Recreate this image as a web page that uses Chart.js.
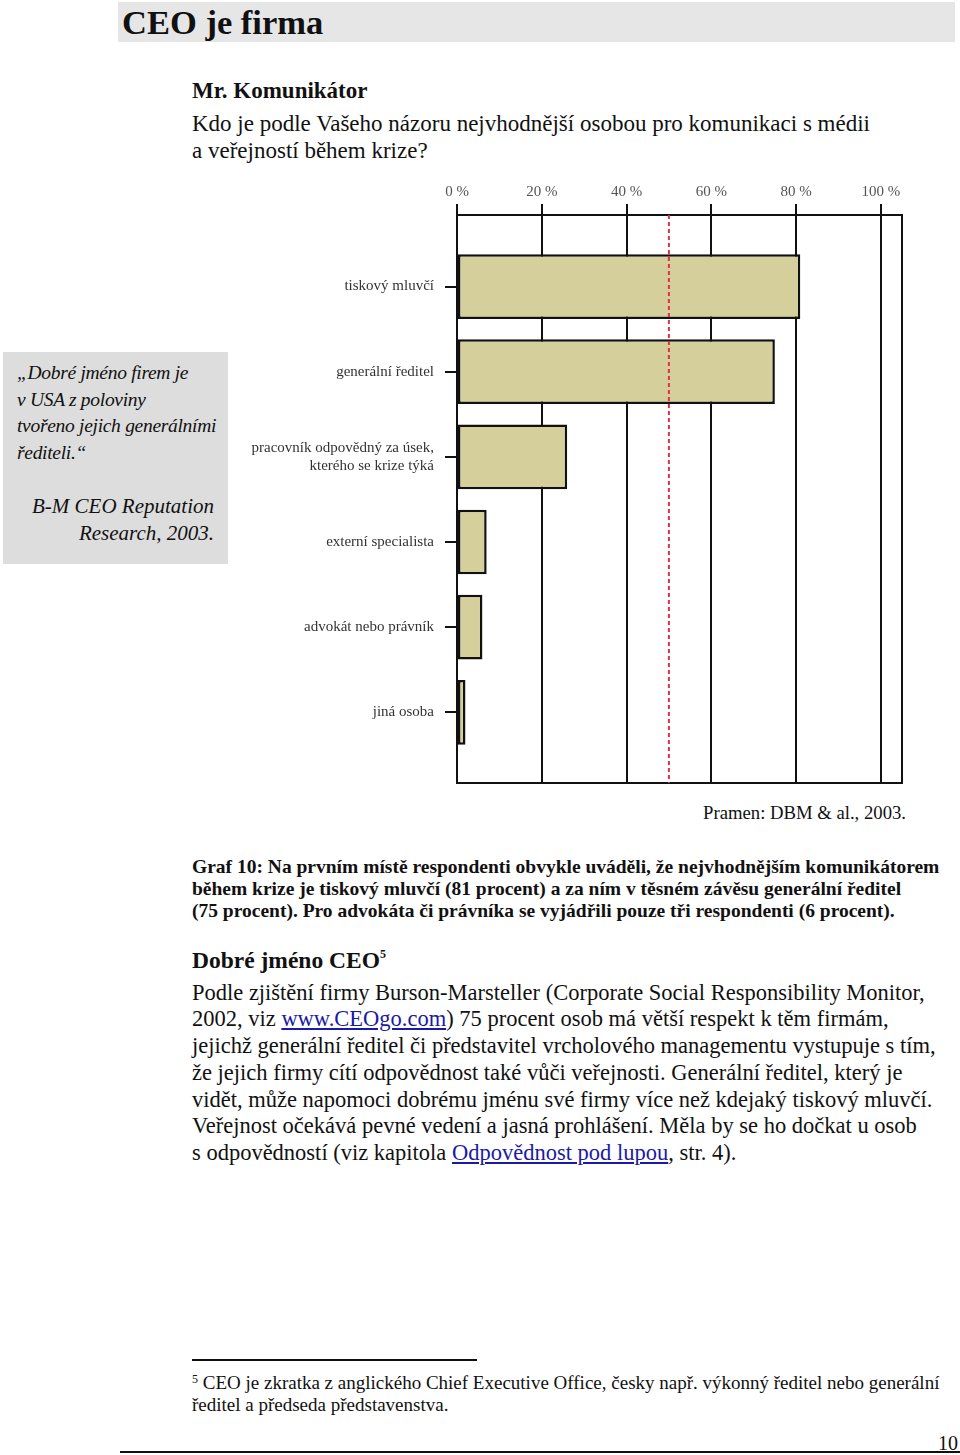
<!DOCTYPE html>
<html lang="cs">
<head>
<meta charset="utf-8">
<title>CEO je firma</title>
<script src="https://cdn.jsdelivr.net/npm/chart.js@4.4.1/dist/chart.umd.min.js"></script>
<style>
  html, body { margin: 0; padding: 0; background: #fff; }
  body {
    position: relative; width: 960px; height: 1455px; overflow: hidden;
    font-family: "Liberation Serif", "DejaVu Serif", serif; color: #111;
  }
  .abs { position: absolute; white-space: nowrap; }
  .band { left: 118px; top: 2px; width: 837px; height: 40px; background: #e6e6e6; }
  .band span { position: absolute; left: 4px; top: 0; font-weight: bold; font-size: 34.5px; line-height: 40px; }
  .sub { left: 192px; top: 77px; font-weight: bold; font-size: 23px; line-height: 28px; }
  .question { left: 192px; top: 110px; font-size: 23px; line-height: 27px; }
  .aside { left: 3px; top: 352px; width: 225px; height: 212px; background: #dddddd; }
  .aside .quote { position: absolute; left: 14px; top: 8px; font-style: italic; font-size: 19.5px; letter-spacing: -0.3px; line-height: 26.7px; white-space: nowrap; }
  .aside .src { position: absolute; right: 14px; top: 141px; font-style: italic; font-size: 21px; line-height: 27px; text-align: right; white-space: nowrap; }
  #chartBox { position: absolute; left: 200px; top: 170px; width: 715px; height: 620px; }
  .source { right: 54px; top: 801px; font-size: 18.7px; line-height: 24px; }
  .caption { left: 192px; top: 856px; font-weight: bold; font-size: 19.5px; line-height: 22px; }
  .h2 { left: 192px; top: 945px; font-weight: bold; font-size: 23.5px; line-height: 30px; }
  .h2 sup { font-size: 12px; vertical-align: 10px; line-height: 0; }
  .body { left: 192px; top: 979.5px; font-size: 22.5px; line-height: 26.8px; }
  a { color: #1a1aa6; text-decoration: underline; }
  .rule { left: 192px; top: 1359px; width: 285px; height: 2px; background: #111; }
  .note { left: 192px; top: 1372px; font-size: 19px; line-height: 22px; }
  .note sup { font-size: 12px; vertical-align: 6px; line-height: 0; }
  .pageno { right: 2px; top: 1431px; font-size: 20px; line-height: 24px; }
  .bottom { left: 120px; top: 1451px; width: 840px; height: 2px; background: #111; }
</style>
</head>
<body>
<div class="abs band"><span>CEO je firma</span></div>
<div class="abs sub">Mr. Komunikátor</div>
<div class="abs question">Kdo je podle Vašeho názoru nejvhodnější osobou pro komunikaci s médii<br>a veřejností během krize?</div>

<div class="abs aside">
  <div class="quote">„Dobré jméno firem je<br>v USA z poloviny<br>tvořeno jejich generálními<br>řediteli.“</div>
  <div class="src">B-M CEO Reputation<br>Research, 2003.</div>
</div>

<div id="chartBox"><canvas id="chart" width="715" height="620"></canvas></div>

<div class="abs source">Pramen: DBM &amp; al., 2003.</div>
<div class="abs caption">Graf 10: Na prvním místě respondenti obvykle uváděli, že nejvhodnějším komunikátorem<br>během krize je tiskový mluvčí (81 procent) a za ním v těsném závěsu generální ředitel<br>(75 procent). Pro advokáta či právníka se vyjádřili pouze tři respondenti (6 procent).</div>

<div class="abs h2">Dobré jméno CEO<sup>5</sup></div>
<div class="abs body">Podle zjištění firmy Burson-Marsteller (Corporate Social Responsibility Monitor,<br>2002, viz <a>www.CEOgo.com</a>) 75 procent osob má větší respekt k těm firmám,<br>jejichž generální ředitel či představitel vrcholového managementu vystupuje s tím,<br>že jejich firmy cítí odpovědnost také vůči veřejnosti. Generální ředitel, který je<br>vidět, může napomoci dobrému jménu své firmy více než kdejaký tiskový mluvčí.<br>Veřejnost očekává pevné vedení a jasná prohlášení. Měla by se ho dočkat u osob<br>s odpovědností (viz kapitola <a>Odpovědnost pod lupou</a>, str. 4).</div>

<div class="abs rule"></div>
<div class="abs note"><sup>5</sup> CEO je zkratka z anglického Chief Executive Office, česky např. výkonný ředitel nebo generální<br>ředitel a předseda představenstva.</div>
<div class="abs pageno">10</div>
<div class="abs bottom"></div>

<script>
// Answers, top to bottom, as the survey listed them.
const categories = [
    "tiskový mluvčí",
    "generální ředitel",
    ["pracovník odpovědný za úsek,", "kterého se krize týká"],
    "externí specialista",
    "advokát nebo právník",
    "jiná osoba",
];
// Share of respondents for each answer, in percent.
const shares = [81, 75, 26, 7, 6, 2];
// Percent ticks along the top axis and their texts.
const percentTicks = [0, 20, 40, 60, 80, 100];
const tickLabels = ["0 %", "20 %", "40 %", "60 %", "80 %", "100 %"];
// The dashed 50 % mark, from the top of the plot to the bottom.
const halfMark = [50, 50];

// Scale ranges: the frame runs a little past 100 % and past the first and last row.
const percentMax = 105;
const rowMin = -0.84;
const rowMax = 5.83;

const ink = "#111";

/**
 * Draws the right and bottom sides of the plot frame.
 */
const framePlugin = {
    id: "frame",
    beforeDatasetsDraw(chart) {
        const { ctx, chartArea } = chart;
        ctx.save();
        ctx.strokeStyle = ink;
        ctx.lineWidth = 2;
        ctx.beginPath();
        ctx.moveTo(chartArea.left, chartArea.bottom);
        ctx.lineTo(chartArea.right, chartArea.bottom);
        ctx.lineTo(chartArea.right, chartArea.top);
        ctx.stroke();
        ctx.restore();
    },
};

const chart = new Chart(document.getElementById("chart"), {
    data: {
        datasets: [
            {
                type: "bar",
                data: shares.map((value, index) => ({ x: value, y: index })),
                backgroundColor: "#d4cf9b",
                borderColor: ink,
                borderWidth: 2.5,
                borderSkipped: false,
                categoryPercentage: 1,
                barPercentage: 0.76,
                order: 1,
            },
            {
                type: "line",
                data: halfMark.map((value, index) => ({ x: value, y: index === 0 ? rowMin : rowMax })),
                borderColor: "#dc3246",
                borderWidth: 2,
                borderDash: [4, 3],
                pointRadius: 0,
                order: 0,
            },
        ],
    },
    options: {
        indexAxis: "y",
        responsive: false,
        animation: false,
        layout: { padding: { top: 0, left: 0, right: 13, bottom: 7 } },
        plugins: {
            legend: { display: false },
            tooltip: { enabled: false },
        },
        scales: {
            x: {
                type: "linear",
                position: "top",
                min: 0,
                max: percentMax,
                afterBuildTicks: (scale) => {
                    scale.ticks = percentTicks.map((value) => ({ value }));
                },
                afterFit: (scale) => {
                    scale.height = 45;
                },
                ticks: {
                    padding: 3,
                    color: "#555",
                    font: { family: "'Liberation Serif', serif", size: 15 },
                    callback: (value) => tickLabels[percentTicks.indexOf(value)],
                },
                grid: { color: ink, lineWidth: 2, tickLength: 11 },
                border: { color: ink, width: 2 },
            },
            y: {
                type: "linear",
                reverse: true,
                offset: false,
                min: rowMin,
                max: rowMax,
                afterBuildTicks: (scale) => {
                    scale.ticks = categories.map((_, index) => ({ value: index }));
                },
                afterFit: (scale) => {
                    scale.width = 257;
                    scale.paddingTop = 0;
                    scale.paddingBottom = 0;
                },
                ticks: {
                    padding: 11,
                    color: "#333",
                    font: { family: "'Liberation Serif', serif", size: 15, lineHeight: 1.2 },
                    callback: (value) => categories[value],
                },
                grid: { offset: false, drawOnChartArea: false, color: ink, lineWidth: 2, tickLength: 12 },
                border: { color: ink, width: 2 },
            },
        },
    },
    plugins: [framePlugin],
});
</script>
</body>
</html>
